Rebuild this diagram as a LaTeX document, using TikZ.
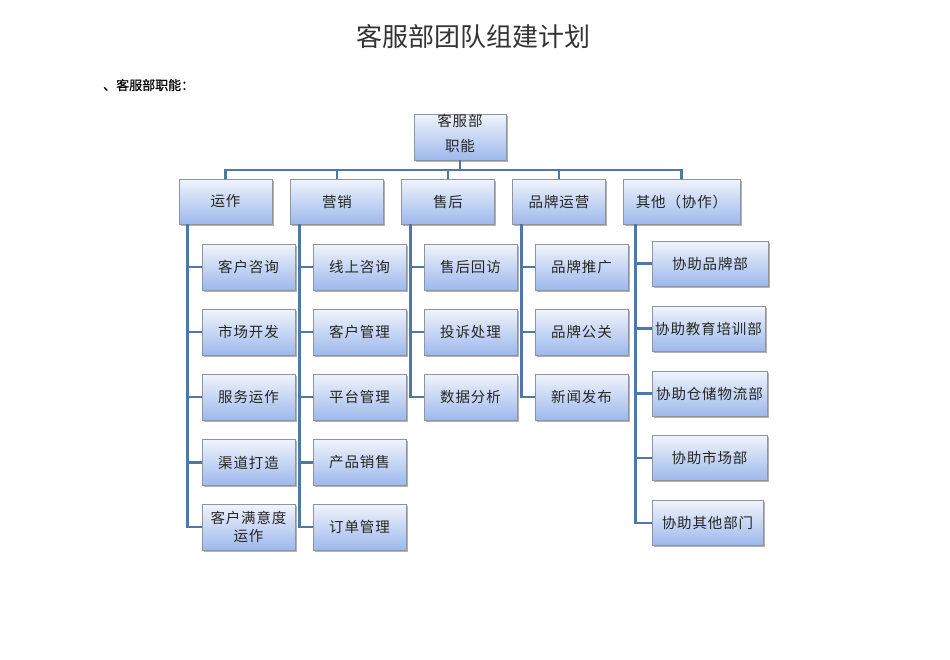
\documentclass[tikz,border=0pt]{standalone}
\usepackage{fontspec}
\newfontfamily\cjk{Noto Sans CJK SC}
\newfontfamily\cjkbold[FakeBold=0.6]{Noto Sans CJK SC}
\newfontfamily\cjkbox[LetterSpace=6]{Noto Sans CJK SC}
\usetikzlibrary{shadows}
\definecolor{linec}{HTML}{4E78AA}
\definecolor{boxtop}{HTML}{F1F4FB}
\definecolor{boxbot}{HTML}{9DB8EC}
\definecolor{boxedge}{HTML}{8E959E}
\tikzset{
  box/.style={draw=boxedge, line width=0.6pt, top color=boxtop, bottom color=boxbot,
    minimum height=46pt, minimum width=93pt, inner sep=0pt,
    font=\cjkbox\fontsize{14.5}{17}\selectfont, text=black!85, align=center,
    drop shadow={shadow xshift=1.5pt, shadow yshift=-1.5pt, opacity=0.3, fill=black}},
  conn/.style={draw=linec, line width=2.8pt},
  txt/.style={inner sep=0pt, font=\cjkbox\fontsize{14.5}{17}\selectfont, text=black!85}
}
\begin{document}
\begin{tikzpicture}[x=1pt,y=-1pt]
\useasboundingbox[fill=white] (0,0) rectangle (950,659);
\node[inner sep=0pt, font=\cjk\fontsize{26}{29}\selectfont, text=black!80] (title) at (473,37) {客服部团队组建计划};
\node[inner sep=0pt, font=\cjkbold\fontsize{13}{15}\selectfont, anchor=west] (sub) at (103,85) {、客服部职能：};

% root
\node[box, minimum width=92pt] (root) at (460,137) {};
\node[txt] (rootA) at (460,121) {客服部};
\node[txt] (rootB) at (460,146) {职能};

% level 1
\node[box, minimum height=45pt] (yz) at (225.5,201.5) {运作};
\node[box, minimum height=45pt] (yx) at (337,201.5) {营销};
\node[box, minimum height=45pt] (sh) at (448,201.5) {售后};
\node[box, minimum height=45pt] (pp) at (559,201.5) {品牌运营};
\node[box, minimum height=45pt, minimum width=117pt] (qt) at (681.5,201.5) {其他（协作）};

% bus
\coordinate (busR) at (460,170);
\coordinate (busL) at (225.5,170);
\coordinate (busE) at (681.5,170);
\draw[conn] (root.south) -- (busR);
\draw[conn, line cap=rect] (busL) -- (busE);
\foreach \n in {yz,yx,sh,pp,qt} \draw[conn] (\n.north |- busR) -- (\n.north);

% column 1
\node[box] (a1) at (248.5,267) {客户咨询};
\node[box] (a2) at (248.5,332) {市场开发};
\node[box] (a3) at (248.5,397) {服务运作};
\node[box] (a4) at (248.5,462.5) {渠道打造};
\node[box, align=center, font=\cjkbox\fontsize{14.5}{18}\selectfont] (a5) at (248.5,527) {客户满意度\\运作};
% column 2
\node[box] (b1) at (359.5,267) {线上咨询};
\node[box] (b2) at (359.5,332) {客户管理};
\node[box] (b3) at (359.5,397) {平台管理};
\node[box] (b4) at (359.5,462.5) {产品销售};
\node[box] (b5) at (359.5,527) {订单管理};
% column 3
\node[box] (c1) at (470.5,267) {售后回访};
\node[box] (c2) at (470.5,332) {投诉处理};
\node[box] (c3) at (470.5,397) {数据分析};
% column 4
\node[box] (d1) at (581.5,267) {品牌推广};
\node[box] (d2) at (581.5,332) {品牌公关};
\node[box] (d3) at (581.5,397) {新闻发布};
% column 5
\node[box, minimum width=116pt, minimum height=45pt] (e1) at (710,263.5) {协助品牌部};
\node[box, minimum width=113pt, minimum height=45pt] (e2) at (708.5,328.5) {协助教育培训部};
\node[box, minimum width=115pt, minimum height=45pt] (e3) at (709.5,393.5) {协助仓储物流部};
\node[box, minimum width=115pt, minimum height=45pt] (e4) at (709.5,458) {协助市场部};
\node[box, minimum width=111pt, minimum height=45pt] (e5) at (707.5,523) {协助其他部门};

% child connectors
\coordinate (yzL) at ([xshift=9pt]yz.south west);
\coordinate (yxL) at ([xshift=9pt]yx.south west);
\coordinate (shL) at ([xshift=9pt]sh.south west);
\coordinate (ppL) at ([xshift=9pt]pp.south west);
\coordinate (qtL) at ([xshift=13pt]qt.south west);
\foreach \c in {a1,a2,a3,a4,a5} \draw[conn] (yzL) |- (\c.west);
\foreach \c in {b1,b2,b3,b4,b5} \draw[conn] (yxL) |- (\c.west);
\foreach \c in {c1,c2,c3} \draw[conn] (shL) |- (\c.west);
\foreach \c in {d1,d2,d3} \draw[conn] (ppL) |- (\c.west);
\foreach \c in {e1,e2,e3,e4,e5} \draw[conn] (qtL) |- (\c.west);
\end{tikzpicture}
\end{document}
